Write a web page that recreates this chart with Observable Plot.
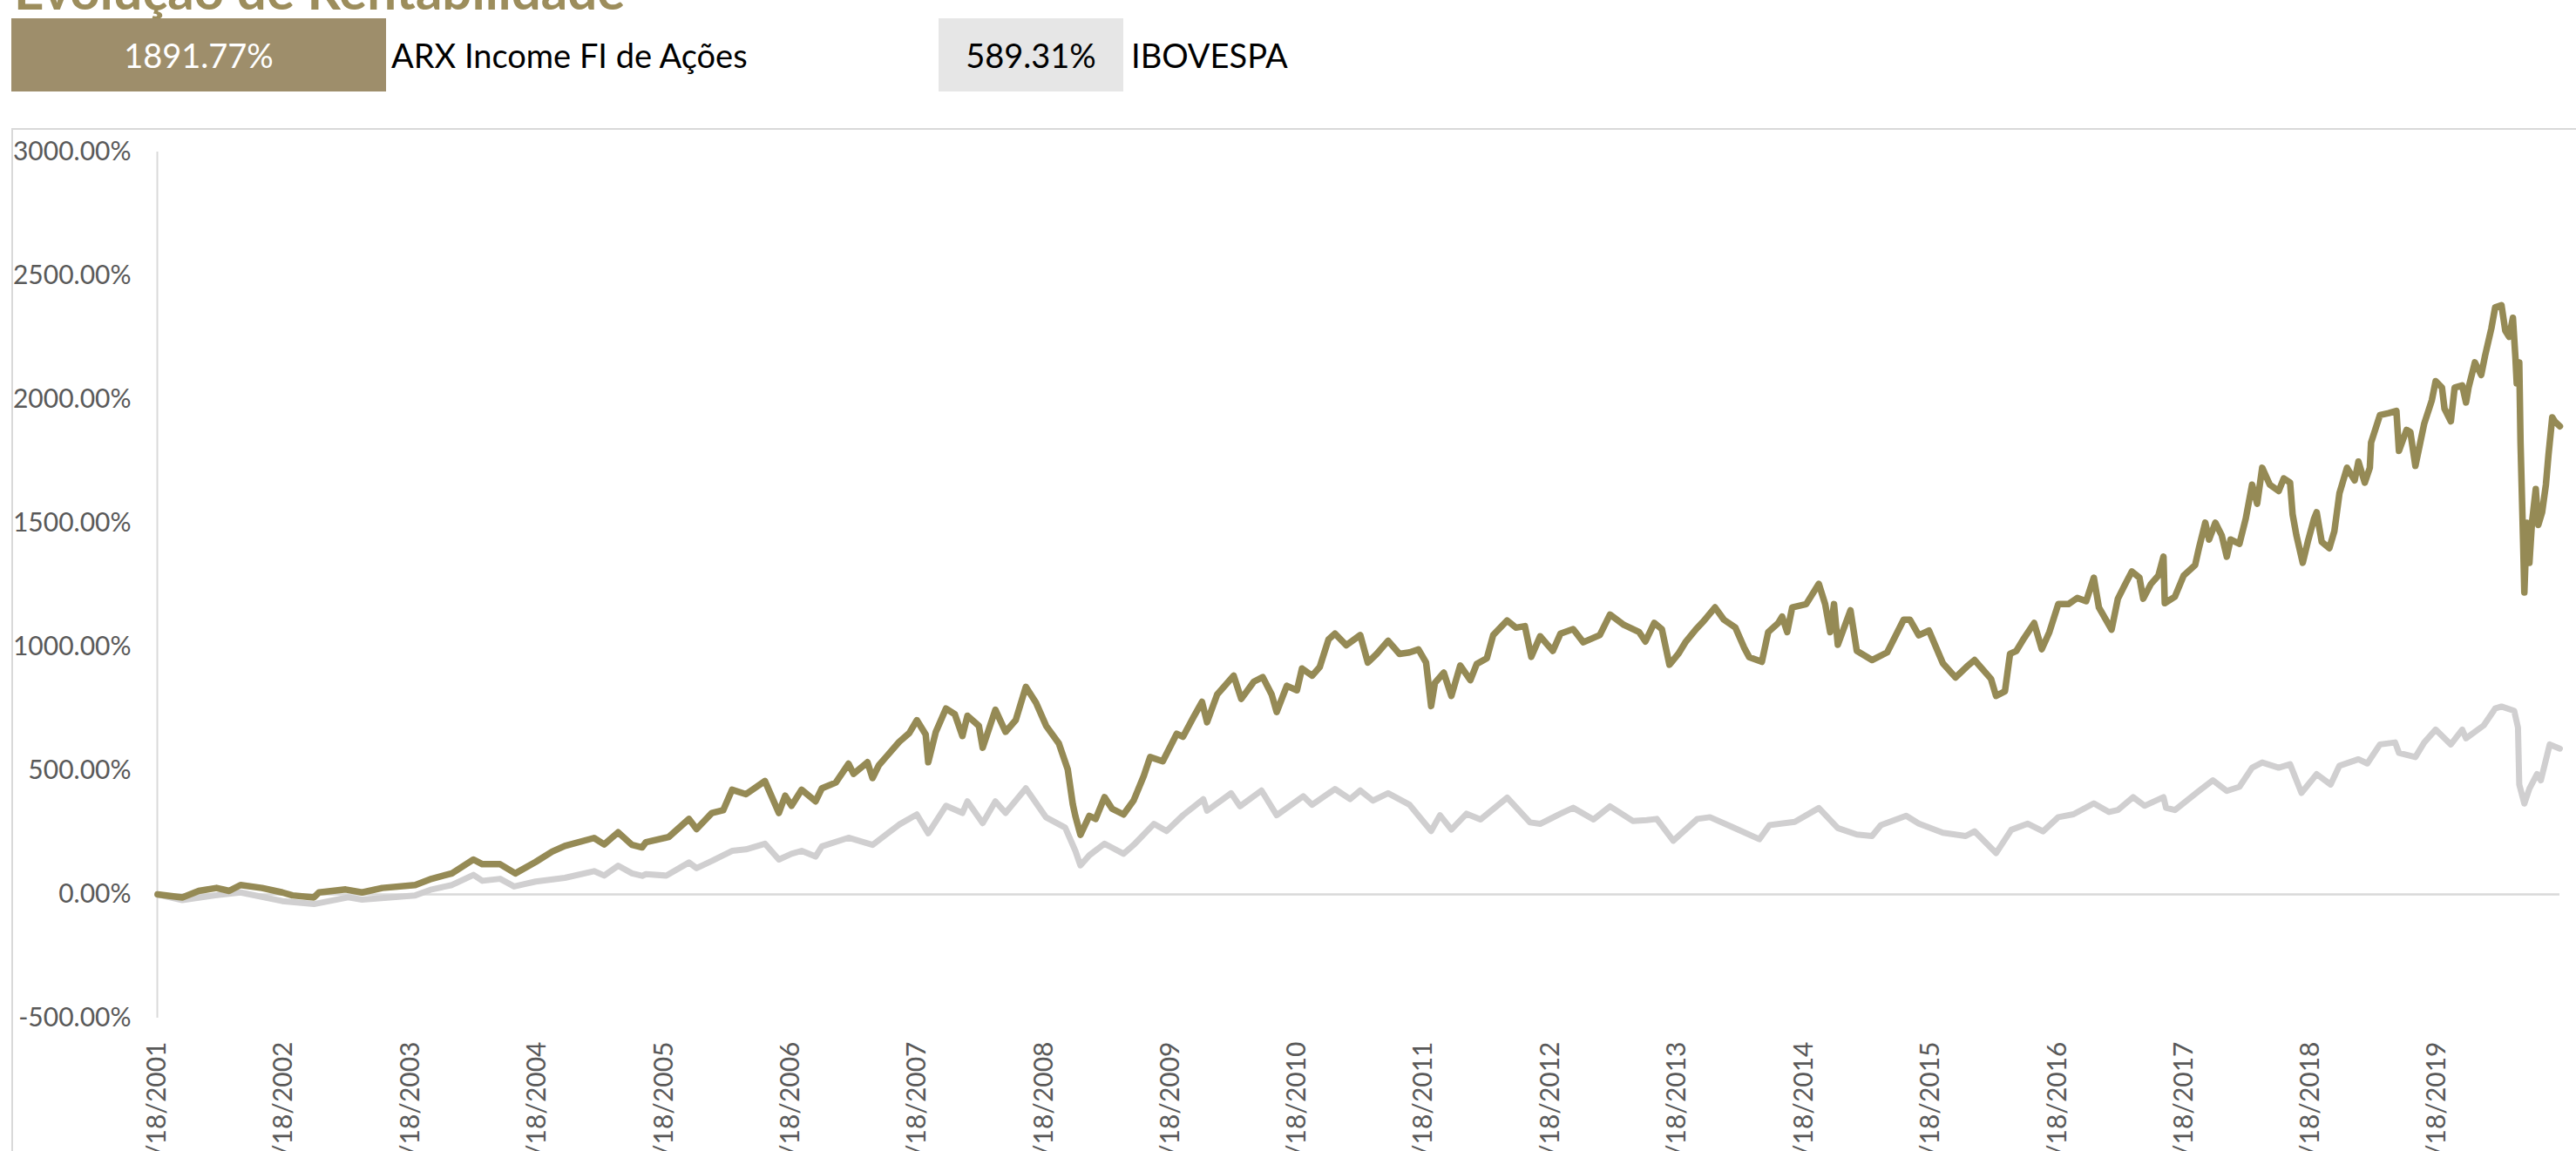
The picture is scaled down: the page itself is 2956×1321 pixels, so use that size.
<!DOCTYPE html>
<html>
<head>
<meta charset="utf-8">
<script src="https://cdn.jsdelivr.net/npm/d3@7"></script>
<script src="https://cdn.jsdelivr.net/npm/@observablehq/plot@0.6"></script>
<style>
  html, body { margin: 0; padding: 0; background: #fff; overflow: hidden; width: 2956px; height: 1321px; }
  #title { position: absolute; left: 16px; top: -42px; font-family: Lato, sans-serif; font-weight: 700; font-size: 60px; line-height: 1; color: #9c8d5c; white-space: nowrap; }
  .box { position: absolute; top: 21px; height: 84px; display: flex; align-items: center; justify-content: center; font-family: Lato, sans-serif; font-size: 38px; }
  .lbl { position: absolute; top: 21px; height: 84px; display: flex; align-items: center; font-family: Lato, sans-serif; font-size: 38px; color: #000; white-space: nowrap; }
  #frame { position: absolute; left: 13px; top: 147px; width: 3100px; height: 1400px; border: 2px solid #d9d9d9; box-sizing: border-box; }
  #chart { position: absolute; left: 0; top: 147px; }
</style>
</head>
<body>
<div id="title">Evolução de Rentabilidade</div>
<div id="legend"></div>
<div id="frame"></div>
<div id="chart"></div>
<script>
// ---- data (decimal year, cumulative return %) ----
const seriesNames = ["ARX Income FI de Ações", "IBOVESPA"];
const seriesFinal = ["1891.77%", "589.31%"];
const seriesColors = ["#958a55", "#d0cfd0"];
const legendFills = ["#9e8e6b", "#e6e6e6"];
const legendText = ["#ffffff", "#000000"];

const arx = [
  [2001.545,0],[2001.74,-12],[2001.87,14],[2002.01,26],[2002.11,14],[2002.20,38],[2002.37,26],[2002.53,8],
  [2002.61,-4],[2002.78,-12],[2002.82,8],[2003.03,20],[2003.16,8],[2003.32,26],[2003.58,38],[2003.71,63],
  [2003.87,85],[2004.04,141],[2004.11,122],[2004.25,122],[2004.37,85],[2004.53,131],[2004.66,173],[2004.76,196],
  [2004.99,228],[2005.07,202],[2005.18,251],[2005.29,200],[2005.37,190],[2005.40,211],[2005.58,232],[2005.74,305],
  [2005.80,264],[2005.92,329],[2006.01,340],[2006.08,423],[2006.19,405],[2006.34,458],[2006.45,329],[2006.50,399],
  [2006.55,358],[2006.63,423],[2006.74,376],[2006.79,429],[2006.90,452],[2007.00,528],[2007.04,487],[2007.15,534],
  [2007.19,470],[2007.24,522],[2007.40,616],[2007.48,652],[2007.54,704],[2007.61,646],[2007.63,534],[2007.69,657],
  [2007.77,751],[2007.84,728],[2007.90,640],[2007.94,722],[2008.03,681],[2008.06,593],[2008.16,746],[2008.24,657],
  [2008.32,704],[2008.40,839],[2008.48,775],[2008.56,681],[2008.66,610],[2008.73,505],[2008.77,364],[2008.79,317],
  [2008.83,241],[2008.90,317],[2008.95,305],[2009.02,393],[2009.08,346],[2009.17,323],[2009.25,380],[2009.33,479],
  [2009.38,555],[2009.48,538],[2009.59,649],[2009.64,637],[2009.72,714],[2009.79,778],[2009.83,696],[2009.91,808],
  [2009.96,837],[2010.04,884],[2010.10,790],[2010.20,860],[2010.27,878],[2010.34,808],[2010.38,737],[2010.46,843],
  [2010.54,825],[2010.58,913],[2010.66,884],[2010.72,919],[2010.79,1031],[2010.84,1054],[2010.93,1007],[2011.04,1048],
  [2011.10,937],[2011.17,972],[2011.26,1025],[2011.35,972],[2011.43,978],[2011.50,990],[2011.56,937],[2011.60,761],
  [2011.63,855],[2011.70,896],[2011.76,802],[2011.83,925],[2011.91,866],[2011.96,931],[2012.04,954],[2012.09,1048],
  [2012.20,1107],[2012.27,1078],[2012.34,1084],[2012.39,960],[2012.46,1043],[2012.56,984],[2012.62,1054],[2012.72,1072],
  [2012.80,1019],[2012.93,1048],[2013.01,1131],[2013.12,1089],[2013.24,1060],[2013.29,1022],[2013.36,1097],[2013.42,1072],
  [2013.48,928],[2013.55,972],[2013.61,1022],[2013.69,1072],[2013.75,1104],[2013.84,1160],[2013.91,1110],[2014.00,1079],
  [2014.07,997],[2014.11,959],[2014.21,940],[2014.26,1060],[2014.34,1097],[2014.37,1123],[2014.41,1060],[2014.45,1160],
  [2014.56,1173],[2014.66,1255],[2014.71,1173],[2014.75,1060],[2014.78,1173],[2014.81,1009],[2014.91,1148],[2014.96,984],
  [2015.08,947],[2015.20,978],[2015.33,1110],[2015.38,1110],[2015.45,1047],[2015.53,1066],[2015.64,934],[2015.74,877],
  [2015.83,921],[2015.89,947],[2016.02,871],[2016.06,802],[2016.13,821],[2016.17,972],[2016.22,984],[2016.28,1035],
  [2016.36,1097],[2016.42,991],[2016.48,1060],[2016.55,1173],[2016.63,1173],[2016.70,1198],[2016.77,1185],[2016.83,1280],
  [2016.87,1160],[2016.97,1070],[2017.02,1195],[2017.07,1246],[2017.13,1305],[2017.19,1280],[2017.22,1195],[2017.28,1254],
  [2017.34,1289],[2017.38,1365],[2017.39,1177],[2017.47,1203],[2017.54,1289],[2017.63,1331],[2017.66,1399],[2017.71,1502],
  [2017.74,1434],[2017.79,1502],[2017.84,1451],[2017.88,1365],[2017.91,1434],[2017.98,1417],[2018.03,1519],[2018.08,1656],
  [2018.12,1579],[2018.16,1724],[2018.22,1656],[2018.29,1630],[2018.33,1681],[2018.38,1664],[2018.40,1536],[2018.43,1451],
  [2018.48,1340],[2018.52,1425],[2018.57,1519],[2018.59,1544],[2018.63,1425],[2018.69,1399],[2018.73,1468],[2018.77,1621],
  [2018.83,1724],[2018.89,1673],[2018.92,1749],[2018.97,1664],[2019.01,1724],[2019.02,1826],[2019.09,1937],[2019.16,1945],
  [2019.22,1954],[2019.24,1792],[2019.30,1877],[2019.33,1869],[2019.37,1732],[2019.44,1903],[2019.50,1997],[2019.53,2074],
  [2019.58,2048],[2019.60,1963],[2019.65,1912],[2019.68,2048],[2019.74,2057],[2019.77,1988],[2019.79,2048],[2019.84,2150],
  [2019.89,2099],[2019.92,2176],[2019.97,2287],[2020.00,2372],[2020.05,2381],[2020.08,2278],[2020.11,2253],[2020.14,2330],
  [2020.16,2168],[2020.17,2065],[2020.19,2150],[2020.20,1826],[2020.22,1434],[2020.23,1220],[2020.25,1502],[2020.27,1340],
  [2020.29,1502],[2020.32,1638],[2020.34,1493],[2020.37,1544],[2020.40,1656],[2020.42,1775],[2020.45,1928],[2020.47,1911],
  [2020.51,1891.77]
];

const ibov = [
  [2001.545,0],[2001.74,-23],[2002.00,-4],[2002.20,8],[2002.53,-27],[2002.78,-39],[2003.05,-12],[2003.16,-21],
  [2003.58,-4],[2003.71,20],[2003.87,38],[2004.04,79],[2004.11,55],[2004.25,63],[2004.36,32],[2004.53,52],
  [2004.76,67],[2004.99,94],[2005.07,76],[2005.18,116],[2005.29,85],[2005.37,75],[2005.40,82],[2005.56,76],
  [2005.74,129],[2005.80,106],[2005.92,135],[2006.08,176],[2006.19,182],[2006.34,205],[2006.45,141],[2006.55,164],
  [2006.63,176],[2006.74,153],[2006.79,194],[2007.00,229],[2007.19,200],[2007.40,282],[2007.54,323],[2007.63,247],
  [2007.77,358],[2007.90,329],[2007.94,376],[2008.06,288],[2008.16,376],[2008.24,329],[2008.40,429],[2008.56,311],
  [2008.71,270],[2008.79,176],[2008.83,117],[2008.90,158],[2009.02,205],[2009.17,164],[2009.25,200],[2009.41,285],
  [2009.51,256],[2009.64,320],[2009.80,385],[2009.83,338],[2010.02,409],[2010.09,356],[2010.26,420],[2010.38,320],
  [2010.59,397],[2010.66,362],[2010.84,426],[2010.96,385],[2011.04,420],[2011.14,379],[2011.26,409],[2011.43,362],
  [2011.60,256],[2011.67,320],[2011.76,262],[2011.88,326],[2011.99,303],[2012.20,391],[2012.38,291],[2012.46,285],
  [2012.62,326],[2012.72,350],[2012.88,303],[2013.01,356],[2013.19,297],[2013.30,300],[2013.38,305],[2013.51,217],
  [2013.70,305],[2013.80,312],[2013.97,274],[2014.19,223],[2014.27,280],[2014.47,293],[2014.66,349],[2014.81,268],
  [2014.96,242],[2015.08,236],[2015.15,280],[2015.35,318],[2015.45,286],[2015.64,249],[2015.82,236],[2015.89,255],
  [2016.06,167],[2016.18,261],[2016.31,286],[2016.43,255],[2016.55,312],[2016.67,324],[2016.83,368],[2016.95,333],
  [2017.02,341],[2017.14,393],[2017.23,358],[2017.38,393],[2017.40,350],[2017.47,341],[2017.66,418],[2017.77,461],
  [2017.88,418],[2017.98,435],[2018.08,512],[2018.16,533],[2018.29,512],[2018.38,526],[2018.47,410],[2018.59,486],
  [2018.70,444],[2018.77,520],[2018.92,546],[2018.99,529],[2019.09,606],[2019.21,614],[2019.24,572],[2019.37,555],
  [2019.44,614],[2019.53,666],[2019.65,606],[2019.74,666],[2019.77,631],[2019.91,683],[2020.00,751],[2020.05,759],
  [2020.15,742],[2020.18,674],[2020.19,444],[2020.23,367],[2020.27,427],[2020.33,486],[2020.36,461],[2020.43,606],
  [2020.51,589.31]
];

const yTicks = [-500, 0, 500, 1000, 1500, 2000, 2500, 3000];
const tickYears = [2001,2002,2003,2004,2005,2006,2007,2008,2009,2010,2011,2012,2013,2014,2015,2016,2017,2018,2019];

// ---- helpers ----
function fromYear(t) {
  const y = Math.floor(t);
  const a = Date.UTC(y, 0, 1), b = Date.UTC(y + 1, 0, 1);
  return new Date(a + (t - y) * (b - a));
}
const rows = [];
[arx, ibov].forEach((s, i) => s.forEach(([t, v]) => rows.push({series: seriesNames[i], date: fromYear(t), value: v})));
const arxRows = rows.filter(d => d.series === seriesNames[0]);
const ibovRows = rows.filter(d => d.series === seriesNames[1]);
const xTicks = tickYears.map(y => new Date(Date.UTC(y, 6, 18)));
const xDomain = [xTicks[0], d3.max(rows, d => d.date)];

// ---- legend ----
const legend = document.getElementById("legend");
const boxPos = [[13, 430], [1077, 212]];
const lblPos = [449, 1298];
seriesNames.forEach((name, i) => {
  const b = document.createElement("div");
  b.className = "box";
  b.style.left = boxPos[i][0] + "px";
  b.style.width = boxPos[i][1] + "px";
  b.style.background = legendFills[i];
  b.style.color = legendText[i];
  b.textContent = seriesFinal[i];
  legend.appendChild(b);
  const l = document.createElement("div");
  l.className = "lbl";
  l.style.left = lblPos[i] + "px";
  l.textContent = name;
  legend.appendChild(l);
});

// ---- chart ----
const chart = Plot.plot({
  width: 2956,
  height: 1221,
  marginTop: 27,
  marginLeft: 180,
  marginRight: 19,
  marginBottom: 200,
  style: {background: "transparent", fontFamily: "Lato, sans-serif", fontSize: "30px", color: "#595959", overflow: "visible"},
  x: {type: "utc", domain: xDomain},
  y: {domain: [-500, 3000]},
  marks: [
    Plot.ruleX([xTicks[0]], {stroke: "#d9d9d9", strokeWidth: 2}),
    Plot.ruleY([0], {stroke: "#d9d9d9", strokeWidth: 2.5}),
    Plot.axisY({ticks: yTicks, tickSize: 0, tickPadding: 30, tickFormat: d => d.toFixed(2) + "%", fontSize: 30, label: null}),
    Plot.axisX({ticks: xTicks, tickSize: 0, tickPadding: 27, tickRotate: -90, tickFormat: d3.utcFormat("%-m/%-d/%Y"), fontSize: 30, label: null}),
    Plot.line(ibovRows, {x: "date", y: "value", stroke: seriesColors[1], strokeWidth: 7}),
    Plot.line(arxRows, {x: "date", y: "value", stroke: seriesColors[0], strokeWidth: 7.5})
  ]
});
document.getElementById("chart").appendChild(chart);
</script>
</body>
</html>
